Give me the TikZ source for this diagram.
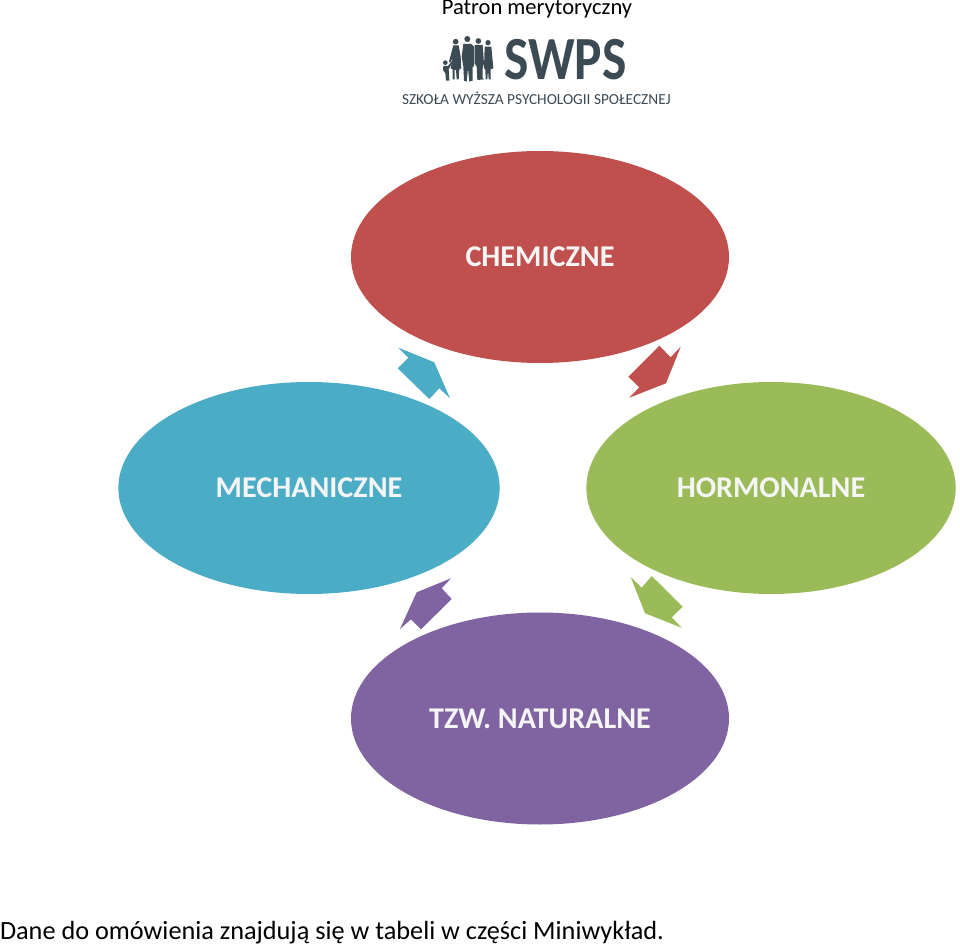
\documentclass[tikz,border=0pt]{standalone}
\usepackage{fontspec}
\setmainfont{Carlito}
\usetikzlibrary{shapes.geometric}
\definecolor{cred}{HTML}{C0504D}
\definecolor{cblue}{HTML}{4BACC6}
\definecolor{cgreen}{HTML}{9BBB59}
\definecolor{cpurple}{HTML}{8064A2}
\definecolor{clogo}{HTML}{3C4A54}
\definecolor{clabel}{HTML}{F5F5F5}
\tikzset{
  x=0.75pt,y=-0.75pt,
  petal/.style={ellipse,inner sep=0pt,outer sep=0pt,text=clabel,font=\fontsize{22.6}{24}\selectfont\bfseries},
  plain/.style={inner sep=0pt,outer sep=0pt,text=black},
}
\begin{document}
\begin{tikzpicture}
\useasboundingbox (0,0) rectangle (960,944);
\fill[white] (0,0) rectangle (960,944);
\node[petal,fill=cred,minimum width=283.5pt,minimum height=159pt] (chem) at (540,257) {CHEMICZNE};
\node[petal,fill=cblue,minimum width=286pt,minimum height=159pt] (mech) at (309,488) {MECHANICZNE};
\node[petal,fill=cgreen,minimum width=277pt,minimum height=159pt] (horm) at (771,488) {HORMONALNE};
\node[petal,fill=cpurple,minimum width=283.5pt,minimum height=159pt] (natu) at (540,718.5) {TZW. NATURALNE};
\fill[cblue] (398.3,347.7)--(434.3,362.3)--(450,398.3)--(439.3,388.3)--(429.3,399)--(397.7,368.3)--(408.3,357.7)--cycle;
\fill[cred] (680.7,346.7)--(670.7,357.3)--(659.3,345.7)--(628.3,376.7)--(639.3,387.3)--(629.3,397.7)--(666,383.3)--cycle;
\fill[cpurple] (451,578.3)--(416.7,592.3)--(400,629)--(411,619.3)--(421,629.3)--(451.7,599)--(441.7,588.3)--cycle;
\fill[cgreen] (630.7,577)--(641.7,587.7)--(651.7,576)--(682.7,606.7)--(671.7,617.3)--(681.7,627.7)--(645,613.3)--cycle;
\node[plain,font=\fontsize{16.9}{19}\selectfont,anchor=base] (patron) at (537,15) {Patron merytoryczny};
\node[plain,font=\fontsize{19.7}{22}\selectfont,anchor=base west] (note) at (0,939) {Dane do omówienia znajdują się w tabeli w części Miniwykład.};
\node[plain,text=clogo,font=\fontsize{46}{50}\selectfont\bfseries,anchor=base west,xscale=.84] (swps) at (504,80) {SWPS};
\node[plain,text=clogo,font=\fontsize{11.5}{13}\selectfont,anchor=base west] (szkola) at (402,105) {SZKOŁA WYŻSZA PSYCHOLOGII SPOŁECZNEJ};
\begin{scope}[shift={(440,30)},scale=1/3,clogo]
\fill (16,98) circle (7);
\fill (10,108)--(24,108)--(36,92)--(38,96)--(26,118)--(28,152)--(18,152)--(16,130)--(9,120)--cycle;
\fill (47,35) circle (8.5);
\fill (40,46)--(56,46)--(62,80)--(64,115)--(58,118)--(56,148)--(50,148)--(48,120)--(44,120)--(44,148)--(38,148)--(38,118)--(32,115)--(38,85)--(30,98)--(27,95)--cycle;
\fill (82,27) circle (9);
\fill (70,42)--(94,42)--(102,50)--(102,110)--(98,110)--(98,152)--(88,155)--(84,115)--(80,155)--(72,152)--(70,110)--(65,80)--cycle;
\fill (115,33) circle (8.5);
\fill (104,45)--(128,45)--(132,100)--(128,115)--(128,145)--(133,148)--(112,150)--(110,110)--(104,100)--cycle;
\fill (144,38) circle (8);
\fill (134,50)--(154,50)--(160,115)--(152,118)--(152,148)--(146,148)--(144,120)--(142,148)--(137,148)--(136,118)--(132,115)--cycle;
\end{scope}
\end{tikzpicture}
\end{document}
